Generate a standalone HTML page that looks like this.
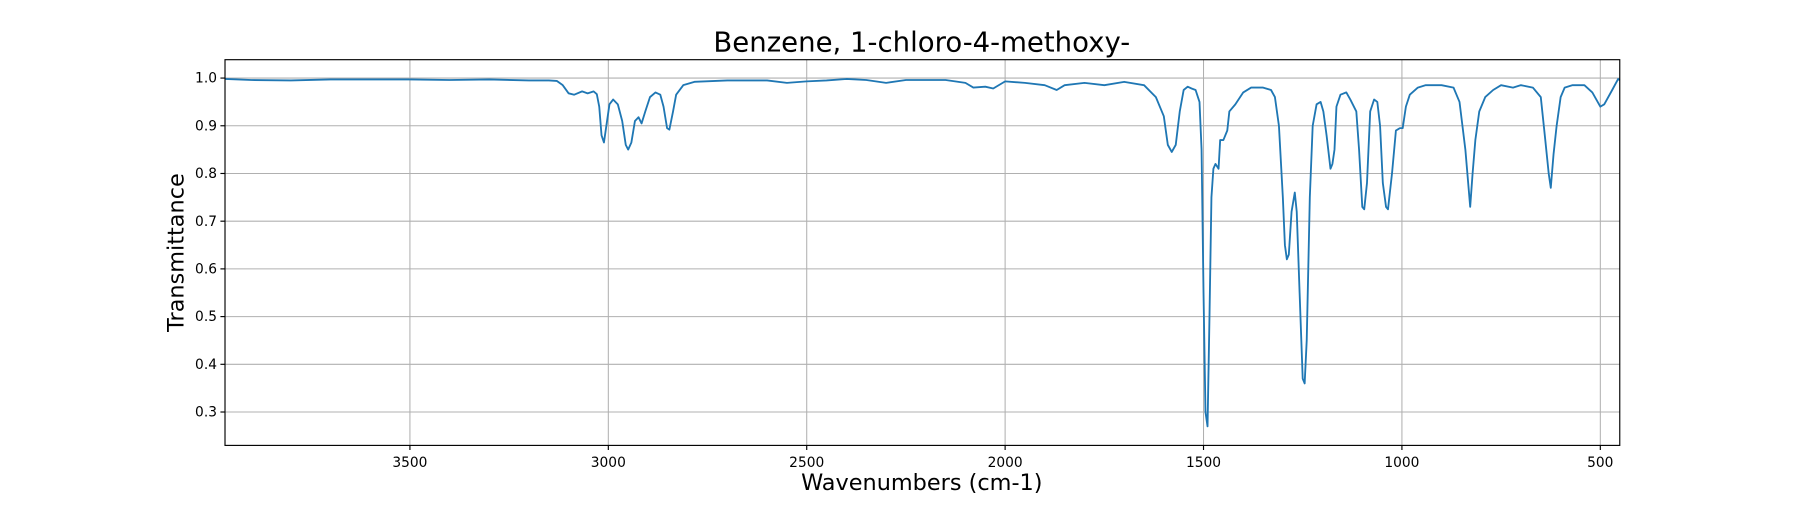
<!DOCTYPE html>
<html><head><meta charset="utf-8"><style>
body{margin:0;background:#fff;font-family:"Liberation Sans","DejaVu Sans",sans-serif}
svg text{font-family:"DejaVu Sans","Liberation Sans",sans-serif}
</style></head><body>
<svg id="chart" width="1800" height="500" viewBox="0 0 1568 435.56" xmlns="http://www.w3.org/2000/svg">
<rect width="1568" height="436" fill="#fff"/>
<text x="803" y="45" font-size="24" text-anchor="middle">Benzene, 1-chloro-4-methoxy-</text>
<g id="grid"></g>
<g id="ticks"></g>
<path id="line" fill="none" stroke="#1f77b4" stroke-width="1.6" stroke-linejoin="round"/>
<rect x="196" y="52" width="1215" height="336" fill="none" stroke="#000" stroke-width="1"/>
<text x="803" y="427" font-size="19.5" text-anchor="middle">Wavenumbers (cm-1)</text>
<text transform="translate(160,220) rotate(-90)" font-size="19.5" text-anchor="middle">Transmittance</text>
</svg>
<script>
const xTicks=[3500,3000,2500,2000,1500,1000,500];
const yTicks=[0.3,0.4,0.5,0.6,0.7,0.8,0.9,1.0];
const wavenumbers=[3966,3900,3800,3700,3600,3500,3400,3300,3200,3150,3130,3115,3100,3086,3066,3052,3037,3029,3023,3017,3011,3005,2997,2988,2976,2965,2956,2950,2942,2933,2924,2916,2907,2895,2881,2869,2861,2852,2846,2837,2829,2811,2783,2700,2600,2550,2500,2450,2400,2350,2300,2250,2150,2100,2080,2050,2030,2000,1950,1900,1870,1850,1800,1750,1700,1650,1620,1600,1590,1580,1570,1560,1550,1540,1530,1520,1510,1505,1500,1495,1490,1485,1480,1475,1470,1462,1458,1450,1440,1435,1420,1400,1380,1350,1330,1320,1310,1300,1295,1290,1285,1278,1270,1265,1258,1250,1245,1240,1232,1225,1215,1205,1198,1190,1180,1175,1170,1165,1155,1140,1130,1115,1108,1100,1095,1088,1080,1070,1062,1055,1048,1040,1035,1025,1015,1005,998,990,980,960,940,900,870,855,840,828,822,815,805,790,770,750,720,700,670,650,640,630,625,618,610,600,590,570,540,520,500,490,470,455,451];
const transmittance=[0.998,0.996,0.995,0.997,0.997,0.997,0.996,0.997,0.995,0.995,0.994,0.985,0.968,0.965,0.972,0.968,0.972,0.966,0.94,0.88,0.865,0.9,0.945,0.955,0.945,0.91,0.86,0.85,0.865,0.91,0.918,0.905,0.93,0.96,0.97,0.965,0.94,0.895,0.892,0.93,0.965,0.985,0.992,0.995,0.995,0.99,0.993,0.995,0.998,0.996,0.99,0.996,0.996,0.99,0.98,0.982,0.978,0.993,0.99,0.985,0.975,0.985,0.99,0.985,0.992,0.985,0.96,0.92,0.86,0.845,0.86,0.93,0.975,0.982,0.978,0.975,0.95,0.85,0.55,0.3,0.27,0.5,0.75,0.81,0.82,0.81,0.87,0.87,0.89,0.93,0.945,0.97,0.98,0.98,0.975,0.96,0.9,0.75,0.65,0.62,0.63,0.72,0.76,0.72,0.55,0.37,0.36,0.45,0.75,0.9,0.945,0.95,0.93,0.88,0.81,0.82,0.85,0.94,0.965,0.97,0.955,0.93,0.85,0.73,0.725,0.78,0.93,0.955,0.95,0.9,0.78,0.73,0.725,0.8,0.89,0.895,0.895,0.94,0.965,0.98,0.985,0.985,0.98,0.95,0.85,0.73,0.8,0.87,0.93,0.96,0.975,0.985,0.98,0.985,0.98,0.96,0.88,0.8,0.77,0.84,0.9,0.96,0.98,0.985,0.985,0.97,0.94,0.945,0.975,0.998,0.996];
const X0=196,X1=1411,Y0=52,Y1=388,WMAX=3966,WMIN=451,TMAX=1.0385,TMIN=0.230;
function xs(w){return X0+(WMAX-w)/(WMAX-WMIN)*(X1-X0);}
function ys(t){return Y0+(TMAX-t)/(TMAX-TMIN)*(Y1-Y0);}
const NS="http://www.w3.org/2000/svg";
const grid=document.getElementById('grid'),ticks=document.getElementById('ticks');
function mk(tag,attrs,parent){const e=document.createElementNS(NS,tag);for(const k in attrs)e.setAttribute(k,attrs[k]);parent.appendChild(e);return e;}
xTicks.forEach(v=>{const x=xs(v);
 const g=mk('line',{x1:x,x2:x,y1:Y0,y2:Y1,stroke:'#b0b0b0','stroke-width':0.9},grid);
 
 
 mk('line',{x1:x,x2:x,y1:Y1,y2:Y1+4,stroke:'#000'},ticks);
 const t=mk('text',{x:x,y:Y1+19,'font-size':12,'text-anchor':'middle'},ticks);t.textContent=v;
 
 });
yTicks.forEach(v=>{const y=ys(v);
 const g=mk('line',{x1:X0,x2:X1,y1:y,y2:y,stroke:'#b0b0b0','stroke-width':0.9},grid);
 
 
 mk('line',{x1:X0-4,x2:X0,y1:y,y2:y,stroke:'#000'},ticks);
 const t=mk('text',{x:X0-7,y:y+4,'font-size':12,'text-anchor':'end'},ticks);t.textContent=v.toFixed(1);
 
 });
document.getElementById('line').setAttribute('d',wavenumbers.map((w,i)=>(i?'L':'M')+xs(w).toFixed(1)+','+ys(transmittance[i]).toFixed(1)).join(''));
</script>
</body></html>
